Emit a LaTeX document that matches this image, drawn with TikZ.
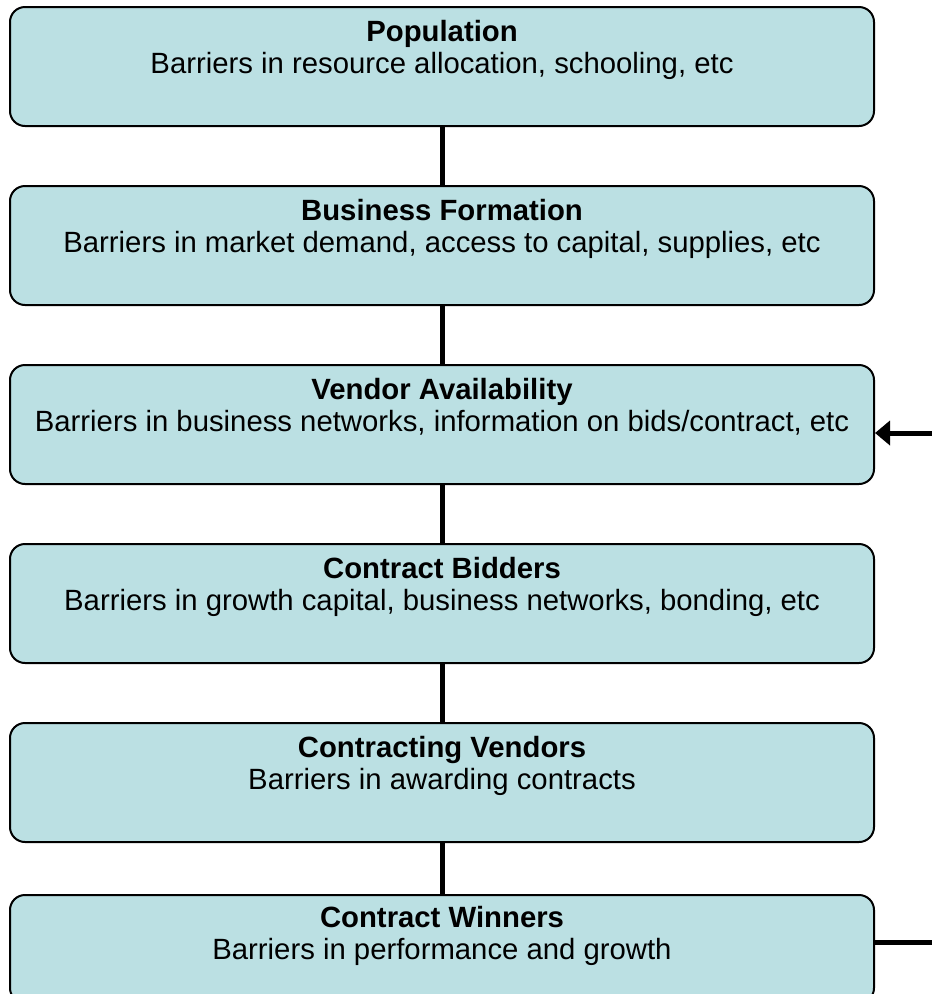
\documentclass[tikz,border=0pt]{standalone}
\usepackage{fontspec}
\setmainfont{Liberation Sans}
\usetikzlibrary{arrows.meta}
\definecolor{boxfill}{HTML}{BBE0E3}
\tikzset{
  stage/.style={draw=black, line width=2pt, fill=boxfill, rounded corners=15pt,
    minimum width=864pt, minimum height=119pt, anchor=north, inner sep=0pt},
  stagetext/.style={anchor=base, inner sep=0pt, font=\fontsize{29.3}{32}\selectfont},
  link/.style={line width=5pt},
}
\begin{document}
\begin{tikzpicture}[x=1pt,y=-1pt]
\clip (0,0) rectangle (932,994);
\useasboundingbox (0,0) rectangle (932,994);
\node[stage] (b1) at (442,6) {};
\node[stage] (b2) at (442,185) {};
\node[stage] (b3) at (442,364) {};
\node[stage] (b4) at (442,543) {};
\node[stage] (b5) at (442,722) {};
\node[stage, minimum height=108pt] (b6) at (442,894) {};

\node[stagetext] (t1) at (442,41.5) {\bfseries Population};
\node[stagetext] (s1) at (442,73) {Barriers in resource allocation, schooling, etc};
\node[stagetext] (t2) at (442,220.5) {\bfseries Business Formation};
\node[stagetext] (s2) at (442,252) {Barriers in market demand, access to capital, supplies, etc};
\node[stagetext] (t3) at (442,399.5) {\bfseries Vendor Availability};
\node[stagetext] (s3) at (442,431) {Barriers in business networks, information on bids/contract, etc};
\node[stagetext] (t4) at (442,578.5) {\bfseries Contract Bidders};
\node[stagetext] (s4) at (442,610) {Barriers in growth capital, business networks, bonding, etc};
\node[stagetext] (t5) at (442,757.5) {\bfseries Contracting Vendors};
\node[stagetext] (s5) at (442,789) {Barriers in awarding contracts};
\node[stagetext] (t6) at (442,927) {\bfseries Contract Winners};
\node[stagetext] (s6) at (442,959) {Barriers in performance and growth};

\draw[link] (b1.south) -- (b2.north);
\draw[link] (b2.south) -- (b3.north);
\draw[link] (b3.south) -- (b4.north);
\draw[link] (b4.south) -- (b5.north);
\draw[link] (b5.south) -- (b6.north);

\coordinate (inA) at (932,433);
\coordinate (outB) at (932,942);
\draw[link, -{Triangle[length=15pt,width=24pt]}] (inA) -- (b3.east |- inA);
\draw[link] (b6.east |- outB) -- (outB);
\end{tikzpicture}
\end{document}
